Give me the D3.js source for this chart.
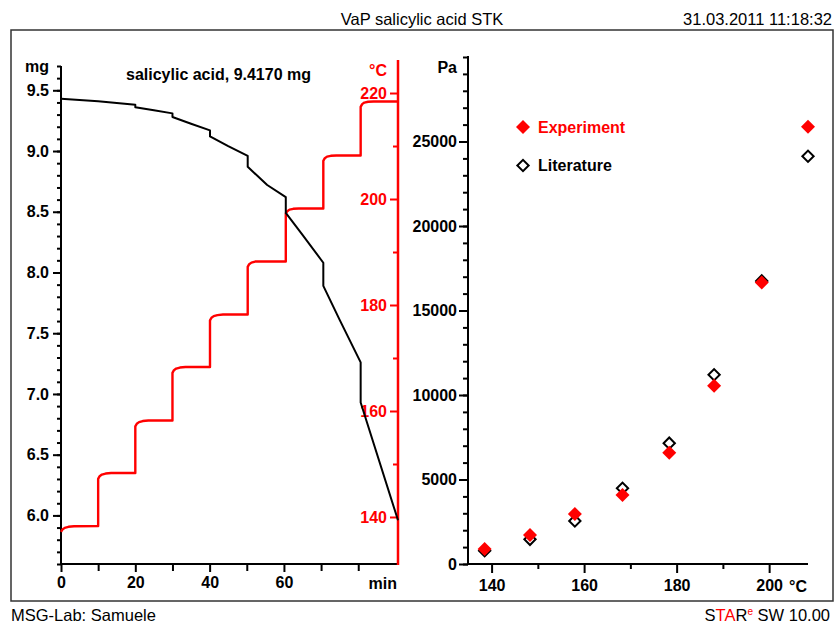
<!DOCTYPE html>
<html>
<head>
<meta charset="utf-8">
<script src="https://cdn.jsdelivr.net/npm/d3@7"></script>
<style>
  body { margin: 0; background: #fff; }
  text { font-family: "Liberation Sans", Arial, sans-serif; }
</style>
</head>
<body>
<div id="chart"></div>
<script>
// mass curve (left axis, mg)
var massTime = [0, 5, 10, 15, 20, 20, 25, 30, 30, 35, 40.1, 40.1, 45, 50.25, 50.25, 55.5, 60.5, 60.5, 65, 70.6, 70.6, 75, 80.65, 80.65, 90.7];
var massMg = [9.43, 9.42, 9.41, 9.395, 9.38, 9.36, 9.335, 9.31, 9.28, 9.225, 9.17, 9.12, 9.04, 8.96, 8.87, 8.72, 8.62, 8.49, 8.31, 8.08, 7.89, 7.61, 7.26, 6.93, 5.96];

// temperature program (red axis, °C)
var tempTime = [
  0, 0.4, 1, 2, 3.5, 10.0,
  10.0, 10.4, 11, 12, 13.5, 20.0,
  20.0, 20.4, 21, 22, 23.5, 30.0,
  30.0, 30.4, 31, 32, 33.5, 40.1,
  40.1, 40.5, 41.1, 42.1, 43.6, 50.25,
  50.25, 50.65, 51.25, 52.25, 53.75, 60.5,
  60.5, 60.9, 61.5, 62.5, 64, 70.6,
  70.6, 71, 71.6, 72.6, 74.1, 80.65,
  80.65, 81.05, 81.65, 82.65, 84.15, 90.7];
var tempC = [
  137.2, 137.65, 137.95, 138.15, 138.25, 138.3,
  147.2, 147.7, 148.0, 148.2, 148.3, 148.3,
  157.1, 157.6, 157.9, 158.1, 158.2, 158.2,
  167.2, 167.7, 168.0, 168.2, 168.3, 168.3,
  177.1, 177.6, 177.9, 178.1, 178.2, 178.2,
  187.2, 187.7, 188.0, 188.2, 188.2, 188.2,
  197.3, 197.7, 198.0, 198.15, 198.2, 198.2,
  207.2, 207.7, 208.0, 208.15, 208.2, 208.2,
  217.4, 217.9, 218.2, 218.35, 218.4, 218.4];

// vapour pressure (right panel)
var vapTemp = [138.5, 148.3, 158.0, 168.3, 178.4, 188.1, 198.4, 208.4];
var expPa = [890, 1720, 2960, 4090, 6590, 10550, 16650, 25870];
var litPa = [790, 1460, 2550, 4480, 7150, 11200, 16750, 24130];

var massTicks = [6.0, 6.5, 7.0, 7.5, 8.0, 8.5, 9.0, 9.5];
var tempTicks = [140, 160, 180, 200, 220];
var timeTicks = [0, 20, 40, 60];
var paTicks = [0, 5000, 10000, 15000, 20000, 25000];
var vapTempTicks = [140, 160, 180, 200];

var W = 836, H = 624;
var RED = "#ff0000";

var svg = d3.select("#chart").append("svg")
  .attr("width", W)
  .attr("height", H);

svg.append("rect").attr("width", W).attr("height", H).attr("fill", "#fff");

// header / footer
svg.append("text").attr("x", 422).attr("y", 25).attr("text-anchor", "middle")
  .style("font-size", "16.5px").text("VaP salicylic acid STK");
svg.append("text").attr("x", 832).attr("y", 25).attr("text-anchor", "end")
  .style("font-size", "16.5px").text("31.03.2011 11:18:32");
svg.append("text").attr("x", 11).attr("y", 621)
  .style("font-size", "16.5px").text("MSG-Lab: Samuele");

var star = svg.append("text").attr("x", 830).attr("y", 621).attr("text-anchor", "end")
  .style("font-size", "16.5px");
star.append("tspan").text("S");
star.append("tspan").attr("fill", RED).text("TA");
star.append("tspan").text("R");
star.append("tspan").attr("fill", RED).attr("dy", -6).style("font-size", "10px").text("e");
star.append("tspan").attr("dy", 6).text(" SW 10.00");

svg.append("rect")
  .attr("x", 11).attr("y", 30).attr("width", 822).attr("height", 571)
  .attr("fill", "none").attr("stroke", "#333").attr("stroke-width", 1.5);

// scales
var x = d3.scaleLinear().domain([0, 90.7]).range([61, 398]);
var yMass = d3.scaleLinear().domain([5.6, 9.7]).range([564, 66]);
var yTemp = d3.scaleLinear().domain([131.13, 226.23]).range([564, 60]);
var xVap = d3.scaleLinear().domain([134.9, 208.4]).range([468, 808]);
var yPa = d3.scaleLinear().domain([0, 30000]).range([564, 57]);

function styleAxis(g, color) {
  g.attr("color", color)
    .attr("font-family", "Liberation Sans, Arial, sans-serif")
    .attr("font-size", 16)
    .attr("font-weight", "bold");
  g.selectAll(".domain").remove();
  g.selectAll(".tick line").attr("stroke-width", 2);
}

// left mass axis
var gMassMinor = svg.append("g").attr("transform", "translate(61,0)")
  .call(d3.axisLeft(yMass).tickValues(d3.range(56, 98).map(function(d) { return d / 10; }))
    .tickSize(4).tickFormat(""));
styleAxis(gMassMinor, "#000");
var gMass = svg.append("g").attr("transform", "translate(61,0)")
  .call(d3.axisLeft(yMass).tickValues(massTicks).tickSize(8).tickPadding(4)
    .tickFormat(d3.format(".1f")));
styleAxis(gMass, "#000");
svg.append("line").attr("x1", 61).attr("x2", 61).attr("y1", 66).attr("y2", 565)
  .attr("stroke", "#000").attr("stroke-width", 2);
svg.append("text").attr("x", 49).attr("y", 72).attr("text-anchor", "end")
  .style("font-size", "16px").style("font-weight", "bold").text("mg");

// time axis
var gTimeMinor = svg.append("g").attr("transform", "translate(0,564)")
  .call(d3.axisBottom(x).tickValues([10, 30, 50, 70, 80]).tickSize(7).tickFormat(""));
styleAxis(gTimeMinor, "#000");
var gTime = svg.append("g").attr("transform", "translate(0,564)")
  .call(d3.axisBottom(x).tickValues(timeTicks).tickSize(8).tickPadding(5));
styleAxis(gTime, "#000");
svg.append("line").attr("x1", 60).attr("x2", 398).attr("y1", 564).attr("y2", 564)
  .attr("stroke", "#000").attr("stroke-width", 2);
svg.append("text").attr("x", 397).attr("y", 589).attr("text-anchor", "end")
  .style("font-size", "16px").style("font-weight", "bold").text("min");

// red temperature axis
var gTempMinor = svg.append("g").attr("transform", "translate(398,0)")
  .call(d3.axisLeft(yTemp).tickValues([150, 170, 190, 210]).tickSize(5).tickFormat(""));
styleAxis(gTempMinor, RED);
var gTemp = svg.append("g").attr("transform", "translate(398,0)")
  .call(d3.axisLeft(yTemp).tickValues(tempTicks).tickSize(8).tickPadding(3));
styleAxis(gTemp, RED);
svg.append("line").attr("x1", 398).attr("x2", 398).attr("y1", 60).attr("y2", 565)
  .attr("stroke", RED).attr("stroke-width", 2.5);
svg.append("text").attr("x", 387).attr("y", 76).attr("text-anchor", "end").attr("fill", RED)
  .style("font-size", "16px").style("font-weight", "bold").text("°C");

// curves
var massLine = d3.line()
  .x(function(d, i) { return x(massTime[i]); })
  .y(function(d) { return yMass(d); });
var tempLine = d3.line()
  .x(function(d, i) { return x(tempTime[i]); })
  .y(function(d) { return yTemp(d); });

svg.append("path").datum(tempC).attr("d", tempLine)
  .attr("fill", "none").attr("stroke", RED).attr("stroke-width", 2.4)
  .attr("stroke-linejoin", "round");
svg.append("path").datum(massMg).attr("d", massLine)
  .attr("fill", "none").attr("stroke", "#000").attr("stroke-width", 2)
  .attr("stroke-linejoin", "round");

svg.append("text").attr("x", 126).attr("y", 80)
  .style("font-size", "16px").style("font-weight", "bold").text("salicylic acid, 9.4170 mg");

// right panel: Pa axis
var gPaMinor = svg.append("g").attr("transform", "translate(468,0)")
  .call(d3.axisLeft(yPa).tickValues(d3.range(0, 30001, 1000)).tickSize(5).tickFormat(""));
styleAxis(gPaMinor, "#000");
var gPa = svg.append("g").attr("transform", "translate(468,0)")
  .call(d3.axisLeft(yPa).tickValues(paTicks).tickSize(9).tickPadding(2).tickFormat(d3.format("d")));
styleAxis(gPa, "#000");
svg.append("line").attr("x1", 468).attr("x2", 468).attr("y1", 56).attr("y2", 565)
  .attr("stroke", "#000").attr("stroke-width", 2);
svg.append("text").attr("x", 457).attr("y", 73).attr("text-anchor", "end")
  .style("font-size", "16px").style("font-weight", "bold").text("Pa");

// right panel: temperature axis
var gVapMinor = svg.append("g").attr("transform", "translate(0,564)")
  .call(d3.axisBottom(xVap).tickValues([150, 170, 190]).tickSize(5).tickFormat(""));
styleAxis(gVapMinor, "#000");
var gVap = svg.append("g").attr("transform", "translate(0,564)")
  .call(d3.axisBottom(xVap).tickValues(vapTempTicks).tickSize(9).tickPadding(7));
styleAxis(gVap, "#000");
svg.append("line").attr("x1", 467).attr("x2", 808).attr("y1", 564).attr("y2", 564)
  .attr("stroke", "#000").attr("stroke-width", 2);
svg.append("text").attr("x", 789).attr("y", 592)
  .style("font-size", "16px").style("font-weight", "bold").text("°C");

// diamonds
var fullDiamond = d3.symbol().type(d3.symbolSquare).size(98);
var openDiamond = d3.symbol().type(d3.symbolSquare).size(64);

svg.append("g").selectAll("path")
  .data(litPa)
  .join("path")
  .attr("d", openDiamond)
  .attr("transform", function(d, i) { return "translate(" + xVap(vapTemp[i]) + "," + yPa(d) + ") rotate(45)"; })
  .attr("fill", "#fff").attr("stroke", "#000").attr("stroke-width", 2);

svg.append("g").selectAll("path")
  .data(expPa)
  .join("path")
  .attr("d", fullDiamond)
  .attr("transform", function(d, i) { return "translate(" + xVap(vapTemp[i]) + "," + yPa(d) + ") rotate(45)"; })
  .attr("fill", RED);

// legend
svg.append("path").attr("d", fullDiamond)
  .attr("transform", "translate(523,127) rotate(45)").attr("fill", RED);
svg.append("text").attr("x", 538).attr("y", 133).attr("fill", RED)
  .style("font-size", "16px").style("font-weight", "bold").text("Experiment");
svg.append("path").attr("d", openDiamond)
  .attr("transform", "translate(523,165.5) rotate(45)")
  .attr("fill", "#fff").attr("stroke", "#000").attr("stroke-width", 2);
svg.append("text").attr("x", 538).attr("y", 171)
  .style("font-size", "16px").style("font-weight", "bold").text("Literature");
</script>
</body>
</html>
